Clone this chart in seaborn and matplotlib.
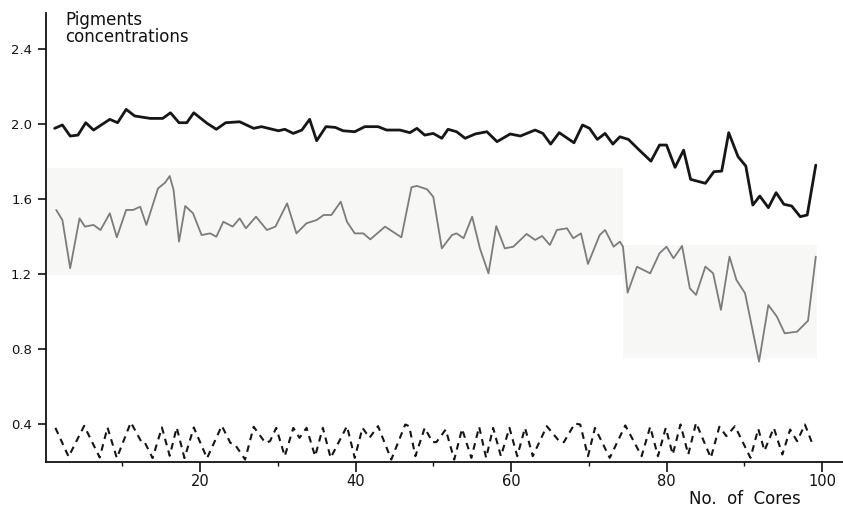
import matplotlib
matplotlib.use("Agg")
import matplotlib.pyplot as plt
import seaborn as sns
import pandas as pd
from matplotlib.patches import Rectangle

# ---------------- data ----------------
top_cores = [1.3, 2.3, 3.3, 4.3, 5.3, 6.3, 8.4, 9.4, 10.5, 11.6, 13.6, 15.2, 16.2, 17.3,
             18.3, 19.2, 20.9, 22.1, 23.3, 25.1, 26.9, 27.9, 30.1, 30.9, 32.0, 33.1, 34.1,
             35.0, 36.2, 37.4, 38.4, 39.9, 41.2, 42.9, 44.0, 45.7, 47.0, 47.9, 48.9, 50.0,
             51.1, 51.9, 53.0, 54.1, 55.4, 56.9, 58.2, 59.9, 61.2, 63.1, 64.1, 65.1, 66.2,
             68.1, 69.2, 70.1, 71.1, 72.1, 73.1, 74.0, 75.1, 76.4, 78.0, 79.1, 80.0, 81.1,
             82.2, 83.1, 85.0, 86.1, 87.1, 88.0, 89.2, 90.2, 91.1, 92.0, 93.1, 94.1, 95.1,
             96.1, 97.2, 98.1, 99.2]
top_values = [1.977, 1.995, 1.936, 1.941, 2.007, 1.968, 2.025, 2.007, 2.078, 2.043, 2.030,
              2.030, 2.060, 2.007, 2.007, 2.060, 2.004, 1.972, 2.007, 2.012, 1.977, 1.986,
              1.964, 1.972, 1.950, 1.968, 2.025, 1.911, 1.986, 1.982, 1.964, 1.959, 1.986,
              1.986, 1.968, 1.968, 1.954, 1.977, 1.941, 1.950, 1.924, 1.972, 1.959, 1.924,
              1.947, 1.959, 1.906, 1.947, 1.936, 1.968, 1.950, 1.893, 1.954, 1.900, 1.995,
              1.977, 1.918, 1.950, 1.893, 1.932, 1.918, 1.865, 1.802, 1.888, 1.888, 1.769,
              1.861, 1.705, 1.684, 1.746, 1.749, 1.954, 1.826, 1.776, 1.568, 1.616, 1.554,
              1.634, 1.572, 1.563, 1.506, 1.515, 1.781]

mid_cores = [1.5, 2.3, 3.3, 4.5, 5.2, 6.3, 7.2, 8.4, 9.3, 10.5, 11.4, 12.3, 13.1, 14.6,
             15.5, 16.1, 16.6, 17.3, 18.1, 19.1, 20.2, 21.3, 22.1, 23.0, 24.2, 25.1, 25.9,
             27.2, 28.6, 29.7, 31.2, 32.4, 33.7, 35.0, 35.9, 36.9, 38.1, 38.9, 39.9, 41.0,
             41.9, 43.8, 45.9, 47.2, 47.9, 49.2, 50.0, 51.1, 52.4, 53.0, 53.9, 55.0, 56.0,
             57.1, 58.1, 59.2, 60.3, 62.0, 63.1, 64.0, 65.0, 65.9, 67.2, 68.0, 69.0, 69.9,
             71.4, 72.1, 73.2, 74.0, 74.4, 75.0, 76.2, 77.9, 79.1, 80.0, 80.9, 82.0, 83.0,
             83.8, 85.0, 86.0, 87.0, 88.1, 89.0, 90.1, 91.9, 93.1, 94.2, 95.2, 96.8, 98.2,
             99.2]
mid_values = [1.542, 1.488, 1.231, 1.497, 1.453, 1.462, 1.435, 1.524, 1.396, 1.542, 1.542,
              1.559, 1.462, 1.657, 1.687, 1.723, 1.648, 1.373, 1.563, 1.524, 1.408, 1.417,
              1.399, 1.479, 1.453, 1.497, 1.444, 1.506, 1.435, 1.453, 1.577, 1.417, 1.471,
              1.488, 1.515, 1.515, 1.586, 1.479, 1.417, 1.417, 1.385, 1.453, 1.396, 1.663,
              1.670, 1.652, 1.612, 1.337, 1.408, 1.417, 1.391, 1.506, 1.337, 1.204, 1.456,
              1.337, 1.346, 1.414, 1.382, 1.403, 1.355, 1.435, 1.444, 1.391, 1.417, 1.254,
              1.408, 1.435, 1.346, 1.373, 1.346, 1.101, 1.239, 1.204, 1.311, 1.346, 1.284,
              1.350, 1.124, 1.089, 1.240, 1.204, 1.009, 1.293, 1.168, 1.098, 0.733, 1.035,
              0.973, 0.884, 0.893, 0.951, 1.293]

low_cores = [1.4, 3.1, 5.1, 7.1, 8.1, 9.3, 11.1, 12.5, 12.9, 13.9, 15.1, 16.1, 17.0, 18.0,
             19.2, 20.9, 22.8, 23.9, 24.5, 25.8, 26.9, 28.4, 29.0, 29.8, 30.9, 32.0, 32.8,
             33.7, 34.8, 35.8, 36.8, 38.9, 39.9, 40.9, 41.8, 42.9, 44.6, 46.4, 46.9, 47.7,
             48.9, 49.9, 50.4, 51.6, 52.7, 53.7, 54.9, 55.9, 56.8, 57.7, 58.7, 59.8, 60.8,
             61.8, 62.8, 64.6, 66.3, 66.8, 68.2, 68.9, 69.9, 70.8, 72.7, 74.7, 76.8, 77.9,
             78.9, 79.9, 80.8, 81.8, 82.8, 83.8, 85.7, 86.8, 87.7, 88.8, 90.8, 91.8, 92.6,
             93.8, 94.9, 95.9, 96.8, 97.8, 98.8]
low_values = [0.380, 0.226, 0.391, 0.222, 0.382, 0.219, 0.409, 0.302, 0.302, 0.219, 0.382,
              0.231, 0.382, 0.219, 0.382, 0.218, 0.391, 0.300, 0.291, 0.211, 0.386, 0.300,
              0.309, 0.380, 0.229, 0.380, 0.327, 0.380, 0.229, 0.380, 0.220, 0.389, 0.220,
              0.380, 0.327, 0.389, 0.211, 0.398, 0.389, 0.229, 0.380, 0.304, 0.304, 0.371,
              0.211, 0.375, 0.220, 0.386, 0.220, 0.380, 0.229, 0.380, 0.229, 0.380, 0.229,
              0.389, 0.304, 0.304, 0.403, 0.398, 0.229, 0.380, 0.220, 0.393, 0.229, 0.386,
              0.229, 0.380, 0.238, 0.398, 0.238, 0.407, 0.220, 0.386, 0.336, 0.389, 0.220,
              0.375, 0.258, 0.380, 0.238, 0.371, 0.309, 0.398, 0.291]

y_ticks = [0.4, 0.8, 1.2, 1.6, 2.0, 2.4]
y_tick_labels = ["0.4", "0.8", "1.2", "1.6", "2.0", "2.4"]
x_ticks = [20, 40, 60, 80, 100]
x_tick_labels = ["20", "40", "60", "80", "100"]
x_minor_ticks = [10, 30, 50, 70, 90]

# light scan-background patches: (x0, x1, y0, y1)
shade_regions = [(0.2, 74.4, 1.195, 1.765), (74.4, 99.4, 0.753, 1.355)]

# ---------------- plotting ----------------
sns.set_style("white")
plt.rcParams["font.family"] = ["DejaVu Sans"]

W, H = 843, 507
fig = plt.figure(figsize=(W / 100, H / 100), dpi=100)
ax = fig.add_axes([46 / W, 45 / H, (W - 46) / W, (462 - 13) / H])
ax.set_xlim(0.19, 102.7)
ax.set_ylim(0.198, 2.592)

for (x0, x1, y0, y1) in shade_regions:
    ax.add_patch(Rectangle((x0, y0), x1 - x0, y1 - y0, facecolor="#f7f7f6",
                           edgecolor="none", zorder=0))

top_df = pd.DataFrame({"core": top_cores, "value": top_values})
mid_df = pd.DataFrame({"core": mid_cores, "value": mid_values})
low_df = pd.DataFrame({"core": low_cores, "value": low_values})

sns.lineplot(data=top_df, x="core", y="value", ax=ax, color="#161616",
             linewidth=2.0, estimator=None, sort=False, zorder=3)
sns.lineplot(data=mid_df, x="core", y="value", ax=ax, color="#7c7c7c",
             linewidth=1.3, estimator=None, sort=False, zorder=3)
sns.lineplot(data=low_df, x="core", y="value", ax=ax, color="#151515",
             linewidth=1.5, estimator=None, sort=False, zorder=3,
             linestyle=(0, (3.2, 2.6)))

ax.set_xlabel("")
ax.set_ylabel("")
for s in ("top", "right"):
    ax.spines[s].set_visible(False)
for s in ("left", "bottom"):
    ax.spines[s].set_color("#111111")
    ax.spines[s].set_linewidth(1.3)

ax.set_yticks(y_ticks)
ax.set_yticklabels(y_tick_labels)
ax.set_xticks(x_ticks)
ax.set_xticklabels(x_tick_labels)
ax.set_xticks(x_minor_ticks, minor=True)

ax.tick_params(axis="y", which="major", direction="out", length=6, width=1.2,
               pad=4, labelsize=9.5, colors="#111111", left=True)
ax.tick_params(axis="x", which="major", direction="out", length=7, width=1.2,
               pad=2, labelsize=10.5, colors="#111111", bottom=True)
ax.tick_params(axis="x", which="minor", direction="out", length=3, width=1.0,
               colors="#111111", bottom=True)

fig.text(65 / W, 1 - 11 / H, "Pigments\nconcentrations", ha="left", va="top",
         fontsize=12, linespacing=0.9, color="#111111")
fig.text(745 / W, 1 - 499 / H, "No.  of  Cores", ha="center", va="center",
         fontsize=12, color="#111111")

fig.savefig("out.png", dpi=100)
